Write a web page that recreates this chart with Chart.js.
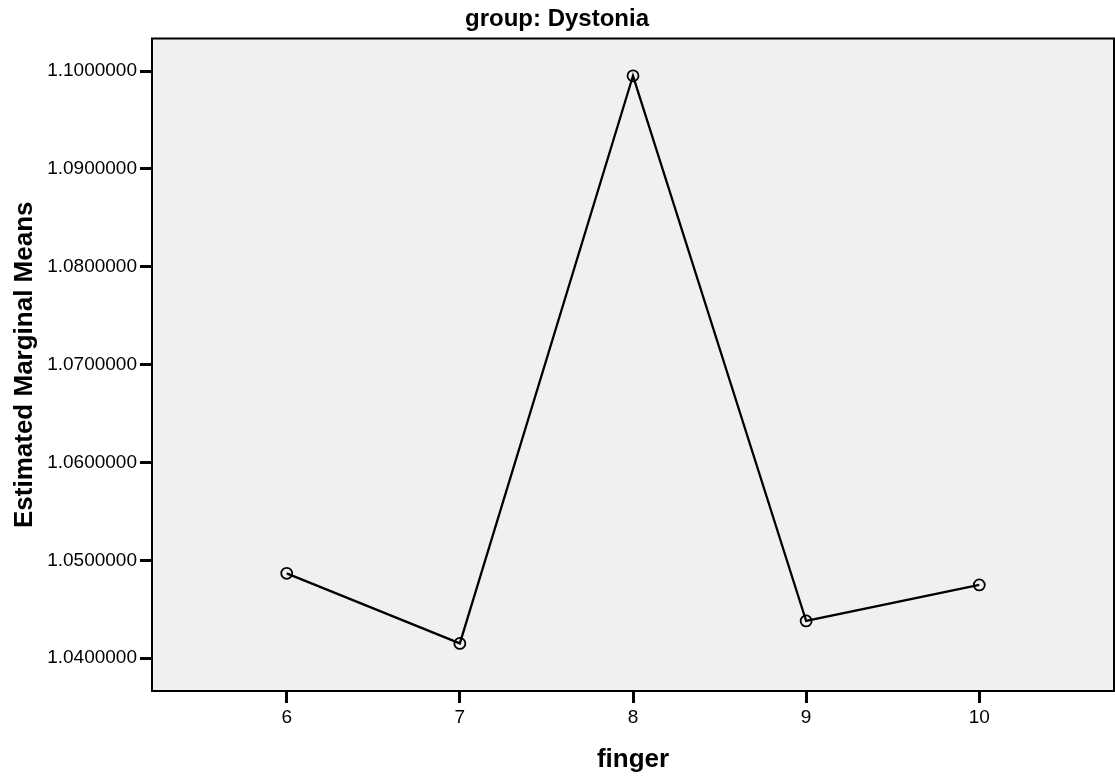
<!DOCTYPE html>
<html>
<head>
<meta charset="utf-8">
<title>group: Dystonia</title>
<script src="https://cdn.jsdelivr.net/npm/chart.js@4"></script>
<style>
  html, body { margin: 0; padding: 0; background: #ffffff; }
  canvas { display: block; }
</style>
</head>
<body>
<canvas id="emm" width="1115" height="778"></canvas>
<script>
// Estimated marginal means per finger, Dystonia group
const fingers = [6, 7, 8, 9, 10];
const meanValues = [1.048675, 1.041514, 1.099520, 1.043806, 1.047489];
const xTicks = [6, 7, 8, 9, 10];
const yTicks = [1.04, 1.05, 1.06, 1.07, 1.08, 1.09, 1.10];

const FONT = '"Liberation Sans", Arial, Helvetica, sans-serif';

// Grey plot panel with a black frame around it
const panelPlugin = {
  id: 'panel',
  beforeDraw(chart) {
    const a = chart.chartArea, ctx = chart.ctx;
    ctx.save();
    ctx.fillStyle = '#f0f0f0';
    ctx.fillRect(a.left, a.top, a.right - a.left, a.bottom - a.top);
    ctx.restore();
  },
  beforeDatasetsDraw(chart) {
    const a = chart.chartArea, ctx = chart.ctx;
    ctx.save();
    ctx.strokeStyle = '#000000';
    ctx.lineWidth = 2;
    ctx.strokeRect(a.left, a.top, a.right - a.left, a.bottom - a.top);
    ctx.restore();
  }
};

new Chart(document.getElementById('emm'), {
  type: 'line',
  data: {
    datasets: [{
      data: fingers.map((f, i) => ({ x: f, y: meanValues[i] })),
      borderColor: '#000000',
      borderWidth: 2.3,
      pointRadius: 5.5,
      pointHoverRadius: 5.5,
      pointBorderWidth: 1.8,
      pointBorderColor: '#000000',
      pointBackgroundColor: 'rgba(0,0,0,0)',
      tension: 0,
      fill: false
    }]
  },
  options: {
    responsive: false,
    animation: false,
    devicePixelRatio: 1,
    layout: { autoPadding: false, padding: { left: 0, right: 1, top: 0, bottom: 0 } },
    plugins: {
      legend: { display: false },
      tooltip: { enabled: false },
      title: {
        display: true,
        text: 'group: Dystonia',
        color: '#000000',
        font: { family: FONT, size: 24, weight: 'bold', lineHeight: 1.2 },
        padding: { top: 5, bottom: 4.7 }
      }
    },
    scales: {
      x: {
        type: 'linear',
        min: 5.222,
        max: 10.778,
        afterBuildTicks(scale) { scale.ticks = xTicks.map(v => ({ value: v })); },
        afterFit(scale) { scale.height = 87; },
        border: { display: false },
        grid: {
          drawOnChartArea: false,
          drawTicks: true,
          tickLength: 12,
          tickWidth: 3,
          tickColor: '#000000'
        },
        ticks: {
          color: '#000000',
          padding: 3,
          maxRotation: 0,
          font: { family: FONT, size: 19 },
          callback: v => String(v)
        },
        title: {
          display: true,
          text: 'finger',
          color: '#000000',
          font: { family: FONT, size: 26, weight: 'bold', lineHeight: 1.2 },
          padding: { top: 0, bottom: 3 }
        }
      },
      y: {
        type: 'linear',
        min: 1.03665,
        max: 1.10333,
        afterBuildTicks(scale) { scale.ticks = yTicks.map(v => ({ value: v })); },
        afterFit(scale) { scale.width = 152; },
        border: { display: false },
        grid: {
          drawOnChartArea: false,
          drawTicks: true,
          tickLength: 12,
          tickWidth: 3,
          tickColor: '#000000'
        },
        ticks: {
          color: '#000000',
          padding: 3,
          font: { family: FONT, size: 19 },
          callback: v => Number(v).toFixed(7)
        },
        title: {
          display: true,
          text: 'Estimated Marginal Means',
          color: '#000000',
          font: { family: FONT, size: 26, weight: 'bold', lineHeight: 1.2 },
          padding: { top: 9, bottom: 0 }
        }
      }
    }
  },
  plugins: [panelPlugin]
});
</script>
</body>
</html>
